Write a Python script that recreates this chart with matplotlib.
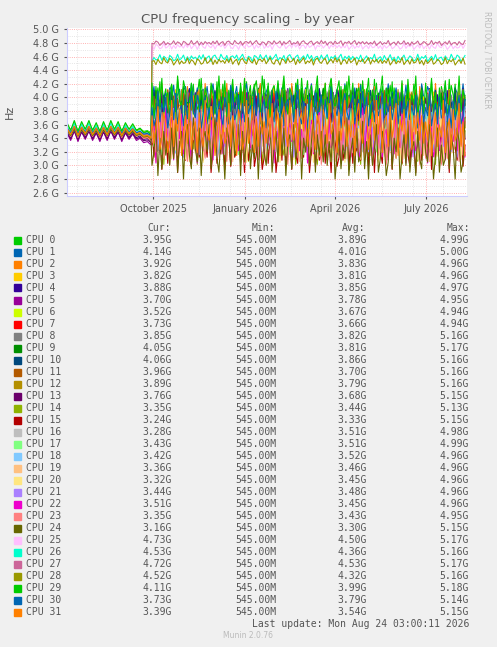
import numpy as np
import matplotlib
matplotlib.use('Agg')
import matplotlib.pyplot as plt
from matplotlib.patches import Rectangle

W, H = 497, 647

names = ['CPU %d' % i for i in range(32)]
colors = ['#00CC00', '#0066B3', '#FF8000', '#FFCC00', '#330099', '#990099', '#CCFF00', '#FF0000',
          '#808080', '#008F00', '#00487D', '#B35A00', '#B38F00', '#6B006B', '#8FB300', '#B30000',
          '#BEBEBE', '#80FF80', '#80C9FF', '#FFC080', '#FFE680', '#AA80FF', '#EE00CC', '#FF8080',
          '#666600', '#FFBFFF', '#00FFCC', '#CC6699', '#999900', '#00CC00', '#0066B3', '#FF8000']
cur = ['3.95G', '4.14G', '3.92G', '3.82G', '3.88G', '3.70G', '3.52G', '3.73G', '3.85G', '4.05G', '4.06G',
       '3.96G', '3.89G', '3.76G', '3.35G', '3.24G', '3.28G', '3.43G', '3.42G', '3.36G', '3.32G', '3.44G',
       '3.51G', '3.35G', '3.16G', '4.73G', '4.53G', '4.72G', '4.52G', '4.11G', '3.73G', '3.39G']
avg = ['3.89G', '4.01G', '3.83G', '3.81G', '3.85G', '3.78G', '3.67G', '3.66G', '3.82G', '3.81G', '3.86G',
       '3.70G', '3.79G', '3.68G', '3.44G', '3.33G', '3.51G', '3.51G', '3.52G', '3.46G', '3.45G', '3.48G',
       '3.45G', '3.43G', '3.30G', '4.50G', '4.36G', '4.53G', '4.32G', '3.99G', '3.79G', '3.54G']
mx = ['4.99G', '5.00G', '4.96G', '4.96G', '4.97G', '4.95G', '4.94G', '4.94G', '5.16G', '5.17G', '5.16G',
      '5.16G', '5.16G', '5.15G', '5.13G', '5.15G', '4.98G', '4.99G', '4.96G', '4.96G', '4.96G', '4.96G',
      '4.96G', '4.95G', '5.15G', '5.17G', '5.16G', '5.17G', '5.16G', '5.18G', '5.14G', '5.15G']

# before the step (days 0..84), level per cpu in GHz
early = [3.56, 3.52, 3.50, 3.52, 3.46, 3.43, 3.55, 3.50, 3.53, 3.54, 3.51, 3.49, 3.52, 3.44, 3.55, 3.49,
         3.52, 3.55, 3.53, 3.50, 3.53, 3.48, 3.50, 3.49, 3.48, 3.53, 3.54, 3.51, 3.50, 3.58, 3.52, 3.51]
# after the step: level and swing in GHz
late = [3.95, 4.02, 3.80, 3.80, 3.86, 3.80, 3.68, 3.66, 3.84, 3.82, 3.88, 3.70, 3.80, 3.70, 3.42, 3.30,
        3.52, 3.52, 3.54, 3.46, 3.45, 3.48, 3.44, 3.42, 3.25, 4.75, 4.58, 4.80, 4.53, 4.00, 3.82, 3.55]
swing = [0.35, 0.20, 0.45, 0.35, 0.30, 0.30, 0.40, 0.45, 0.30, 0.35, 0.25, 0.45, 0.35, 0.35, 0.45, 0.45,
         0.40, 0.40, 0.40, 0.45, 0.45, 0.40, 0.45, 0.45, 0.50, 0.05, 0.06, 0.04, 0.06, 0.35, 0.30, 0.45]

wiggle_early = [0.03, -0.04, 0.05, -0.05, 0.04, -0.03, 0.05, -0.04, 0.03, -0.05, 0.04, -0.04,
                0.05, -0.03, 0.04, -0.05, 0.03, -0.03, 0.02, -0.04, -0.02, -0.06, -0.05, -0.08]
wiggle_late = [0.2, -0.5, 0.6, -0.3, 0.8, -0.7, 0.1, 0.5, -0.9, 0.4, 0.7, -0.2, -0.6, 0.9, 0.0, -0.4,
               0.6, -0.8, 0.3, 0.5, -0.1, 0.7, -0.6, 0.2, 0.9, -0.3, -0.7, 0.4, 0.1, -0.9, 0.6, 0.3,
               -0.5, 0.8, -0.2, 0.0, 0.7, -0.8, 0.5, -0.4, 0.2, 0.9, -0.6, 0.1, -0.3, 0.6, -0.9, 0.4,
               0.8, -0.1, -0.5, 0.3, 0.7, -0.7, 0.0, 0.5, -0.4, 0.9, -0.2, 0.6, -0.8, 0.2, 0.4, -0.6,
               0.7, -0.3, 0.1, 0.8, -0.9, 0.3, -0.1, 0.6, -0.5, 0.2, 0.9, -0.7, 0.4, -0.2, 0.5, -0.4]

fig = plt.figure(figsize=(W / 100, H / 100), dpi=100, facecolor='#F0F0F0')
ax = fig.add_axes([67 / W, 1 - 196 / H, 400 / W, 168 / H], facecolor='white')

we = np.array(wiggle_early)
wl = np.array(wiggle_late + [-v for v in wiggle_late[::-1]])
xe = np.linspace(0, 84, len(we))
xl = np.linspace(85, 398, len(wl))
for i in range(32):
    ye = early[i] + we * (1 + 0.3 * (i % 3))
    yl = late[i] + swing[i] * np.roll(wl, i * 7)
    x = np.concatenate([xe, xl])
    y = np.concatenate([ye, yl])
    ax.plot(x, y * 1e9, color=colors[i], lw=0.8)

ax.set_xlim(0, 400)
ax.set_ylim(2.55e9, 5.02e9)
yt = np.arange(2.6, 5.01, 0.2)
ax.set_yticks(yt * 1e9)
ax.set_yticklabels(['%.1f G' % v for v in yt])
ax.set_yticks(np.arange(2.6, 5.01, 0.1) * 1e9, minor=True)
ax.set_xticks([86, 178, 268, 359])
ax.set_xticklabels(['October 2025', 'January 2026', 'April 2026', 'July 2026'])
ax.set_xticks(np.arange(10, 400, 30.5), minor=True)
ax.tick_params(labelsize=7, colors='#555555', length=2)
ax.tick_params(which='minor', length=0)
ax.grid(which='major', color='#FF9999', linestyle=':', lw=0.6)
ax.grid(which='minor', color='#DDDDDD', linestyle=':', lw=0.6)
for s in ax.spines.values():
    s.set_visible(False)
ax.spines['left'].set_visible(True)
ax.spines['bottom'].set_visible(True)
ax.spines['left'].set_color('#CCCCFF')
ax.spines['bottom'].set_color('#CCCCFF')

def ft(x, y, s, **kw):
    kw.setdefault('fontsize', 7)
    kw.setdefault('color', '#555555')
    kw.setdefault('va', 'center')
    fig.text(x / W, 1 - y / H, s, **kw)

ft(248, 19, 'CPU frequency scaling - by year', fontsize=9.5, ha='center')
ft(10, 112, 'Hz', fontsize=8, ha='center', rotation=90)
ft(487, 60, 'RRDTOOL / TOBI OETIKER', fontsize=5.5, color='#BBBBBB', ha='center', rotation=270)

mono = 'DejaVu Sans Mono'
ft(159, 228, 'Cur:', family=mono, ha='center')
ft(263, 228, 'Min:', family=mono, ha='center')
ft(354, 228, 'Avg:', family=mono, ha='center')
ft(458, 228, 'Max:', family=mono, ha='center')
for i in range(32):
    y = 240 + i * 12
    fig.patches.append(Rectangle((14 / W, 1 - (y + 3.5) / H), 7 / W, 7 / H,
                                 transform=fig.transFigure, color=colors[i]))
    ft(26, y, names[i], family=mono)
    ft(172, y, cur[i], family=mono, ha='right')
    ft(276, y, '545.00M', family=mono, ha='right')
    ft(367, y, avg[i], family=mono, ha='right')
    ft(469, y, mx[i], family=mono, ha='right')
ft(469, 624, 'Last update: Mon Aug 24 03:00:11 2026', family=mono, ha='right')
ft(248, 636, 'Munin 2.0.76', fontsize=5.5, color='#BBBBBB', ha='center')

fig.savefig('out.png', dpi=100, facecolor=fig.get_facecolor())
